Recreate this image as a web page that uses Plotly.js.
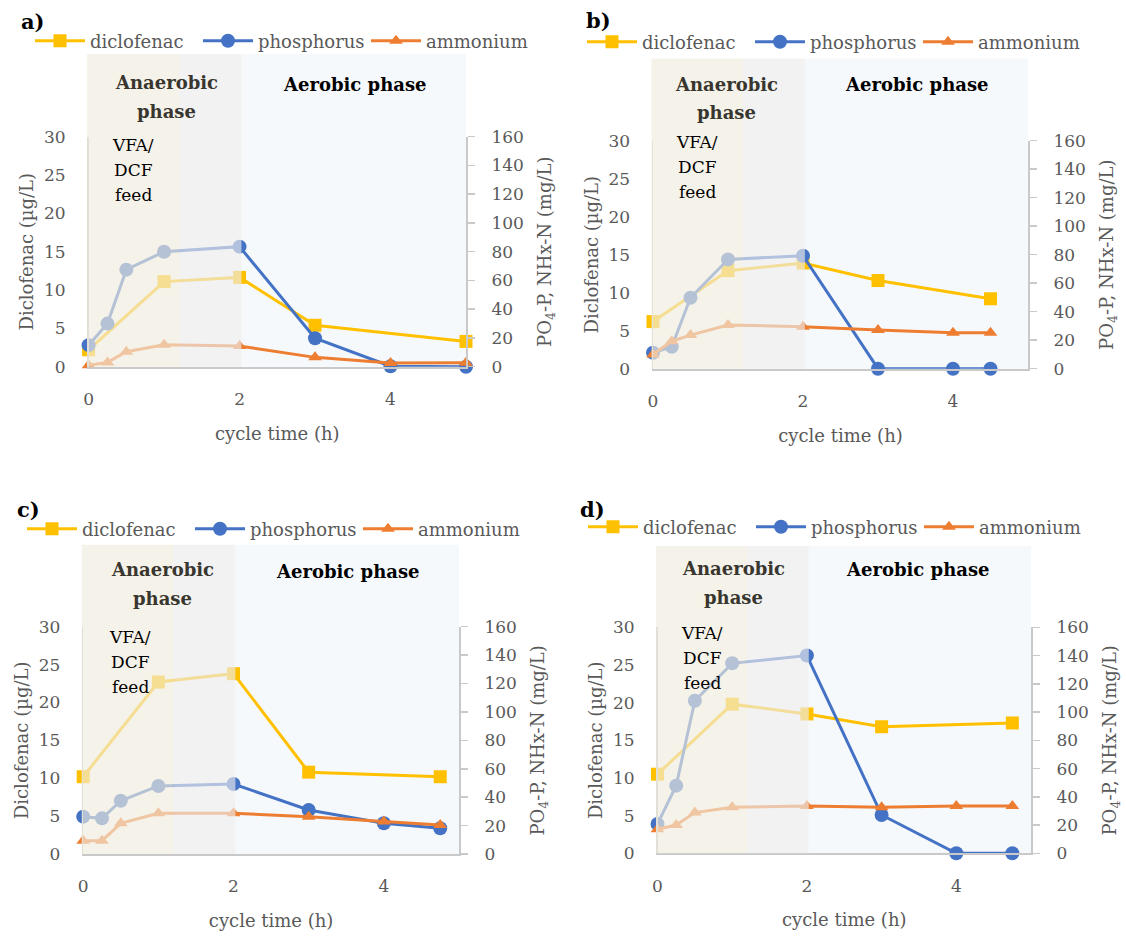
<!DOCTYPE html>
<html>
<head>
<meta charset="utf-8">
<script src="https://cdn.plot.ly/plotly-3.0.1.min.js"></script>
<style>html,body{margin:0;padding:0;background:#fff;}#chart{width:1126px;height:940px;}</style>
</head>
<body>
<div id="chart"></div>
<script>
// ---------- data ----------
const seriesNames = ['diclofenac', 'phosphorus', 'ammonium'];
const panelLabels = ['a)', 'b)', 'c)', 'd)'];
const xTickVals = [0, 2, 4];
const leftTickVals = [0, 5, 10, 15, 20, 25, 30];
const rightTickVals = [0, 20, 40, 60, 80, 100, 120, 140, 160];

// panel a
const timeA = [0, 0.25, 0.5, 1, 2, 3, 4, 5];
const dcfTimeA = [0, 1, 2, 3, 5];
const dcfA = [2.2, 11.1, 11.65, 5.4, 3.3];
const phosA = [15, 30, 67.5, 80, 83.5, 19.8, 0.3, 0];
const nh4A = [1, 3, 10.4, 15.3, 14.4, 6.5, 2.5, 2.8];

// panel b
const timeB = [0, 0.25, 0.5, 1, 2, 3, 4, 4.5];
const dcfTimeB = [0, 1, 2, 3, 4.5];
const dcfB = [6.2, 12.9, 13.9, 11.6, 9.2];
const phosB = [11.2, 15.4, 49.8, 76.7, 79.3, 0, 0, 0];
const nh4B = [10, 19.3, 23.6, 30.6, 29.5, 27.1, 25.3, 25.3];

// panel c
const timeC = [0, 0.25, 0.5, 1, 2, 3, 4, 4.75];
const dcfTimeC = [0, 1, 2, 3, 4.75];
const dcfC = [10.2, 22.7, 23.8, 10.8, 10.2];
const phosC = [26.3, 25.1, 37.5, 47.9, 49.3, 31, 21.6, 18.1];
const nh4C = [9.4, 9.4, 21.6, 28.6, 28.6, 26.3, 22.8, 20.4];

// panel d
const timeD = [0, 0.25, 0.5, 1, 2, 3, 4, 4.75];
const dcfTimeD = [0, 1, 2, 3, 4.75];
const dcfD = [10.5, 19.8, 18.5, 16.8, 17.3];
const phosD = [20.8, 47.9, 108, 134.5, 140, 27.1, 0, 0];
const nh4D = [17, 20, 28.8, 32.6, 33.5, 32.6, 33.5, 33.5];

// ---------- styling / layout ----------
const W = 1126, H = 940;
const FONT = 'DejaVu Serif';
const GREY_TXT = '#595959';
const AXIS_COL = '#c9c9c9';
const COLORS = ['#FFC000', '#4472C4', '#ED7D31'];
const SYMBOLS = ['square', 'circle', 'triangle-up'];
const SIZES = [13, 14, 12];

const px = v => v / W;
const py = v => 1 - v / H;

// plot-area boxes in pixels [left, right, top, bottom]
const boxes = [
  [88.6, 466, 136.7, 366.7],
  [653, 1028, 140.7, 368.7],
  [83.2, 459, 626.7, 854],
  [657.5, 1031, 627.3, 853.3]
];
// legend left x / centre y, panel-label centre, text positions (pixels)
const legendPos = [[30, 41], [582, 42], [22, 529], [583, 527]];
const labelPos = [[33, 22], [598, 20], [28, 510], [592, 509]];
const anaPos = [[166, 83, 112], [726, 84, 113], [162, 569, 598], [733, 568, 597]];
const aerPos = [[355, 84], [916, 84], [347, 571], [917, 569]];
const feedPos = [[133, 145], [697, 142], [130, 637], [702, 633]];

const panels = [
  {t: timeA, dt: dcfTimeA, d: dcfA, p: phosA, n: nh4A},
  {t: timeB, dt: dcfTimeB, d: dcfB, p: phosB, n: nh4B},
  {t: timeC, dt: dcfTimeC, d: dcfC, p: phosC, n: nh4C},
  {t: timeD, dt: dcfTimeD, d: dcfD, p: phosD, n: nh4D}
];

const data = [];
const layout = {
  width: W, height: H,
  margin: {l: 0, r: 0, t: 0, b: 0},
  paper_bgcolor: '#ffffff',
  plot_bgcolor: 'rgba(0,0,0,0)',
  font: {family: FONT, color: GREY_TXT},
  showlegend: true,
  shapes: [],
  annotations: []
};

panels.forEach((pn, i) => {
  const k = i + 1;
  const xName = k === 1 ? 'x' : 'x' + k;
  const yL = 'y' + (2 * i + 1 === 1 ? '' : 2 * i + 1);
  const yR = 'y' + (2 * i + 2);
  const legendName = k === 1 ? 'legend' : 'legend' + k;
  const [l, r, t, b] = boxes[i];

  const traceXs = [pn.dt, pn.t, pn.t];
  const traceYs = [pn.d, pn.p, pn.n];
  for (let s = 0; s < 3; s++) {
    data.push({
      type: 'scatter', mode: 'lines+markers',
      name: seriesNames[s],
      x: traceXs[s], y: traceYs[s],
      xaxis: xName, yaxis: s === 0 ? yL : yR,
      legend: legendName,
      cliponaxis: false,
      line: {color: COLORS[s], width: 3},
      marker: {symbol: SYMBOLS[s], size: SIZES[s], color: COLORS[s]},
      hoverinfo: 'x+y+name'
    });
  }

  const xKey = k === 1 ? 'xaxis' : 'xaxis' + k;
  const yLKey = 'yaxis' + (2 * i + 1 === 1 ? '' : 2 * i + 1);
  const yRKey = 'yaxis' + (2 * i + 2);
  const tickFont = {family: FONT, size: 17, color: GREY_TXT};
  const titleFont = {family: FONT, size: 18, color: GREY_TXT};

  layout[xKey] = {
    domain: [px(l), px(r)], anchor: yL,
    range: [0, 5], tickvals: xTickVals, ticks: '',
    showline: true, linecolor: AXIS_COL, linewidth: 2,
    showgrid: false, zeroline: false,
    tickfont: tickFont, ticklabelstandoff: 16,
    title: {text: 'cycle time (h)', font: titleFont, standoff: 19}
  };
  layout[yLKey] = {
    domain: [py(b), py(t)], anchor: xName,
    range: [0, 30], tickvals: leftTickVals, ticks: '',
    showline: true, linecolor: AXIS_COL, linewidth: 1.5,
    showgrid: false, zeroline: false,
    tickfont: tickFont, ticklabelstandoff: 18,
    title: {text: 'Diclofenac (µg/L)', font: titleFont, standoff: 5}
  };
  layout[yRKey] = {
    overlaying: yL, side: 'right', anchor: xName,
    range: [0, 160], tickvals: rightTickVals,
    ticks: 'outside', ticklen: 7, tickwidth: 1.5, tickcolor: AXIS_COL,
    showline: true, linecolor: AXIS_COL, linewidth: 2,
    showgrid: false, zeroline: false,
    tickfont: tickFont, ticklabelstandoff: 13,
    title: {text: 'PO<sub>4</sub>-P, NHx-N (mg/L)', font: titleFont, standoff: 16}
  };

  layout[legendName] = {
    x: px(legendPos[i][0]), y: py(legendPos[i][1]),
    xanchor: 'left', yanchor: 'middle',
    orientation: 'h', itemwidth: 50,
    entrywidthmode: 'pixels', entrywidth: 103,
    bgcolor: 'rgba(0,0,0,0)',
    font: {family: FONT, size: 18, color: GREY_TXT}
  };

  // phase shading
  const xr = xName + ' domain', yr = yL + ' domain';
  const topFrac = 1.36;
  layout.shapes.push(
    {type: 'rect', xref: xr, yref: yr, x0: 0.405, x1: 1.0, y0: 0, y1: topFrac,
     fillcolor: '#F6F9FC', line: {width: 0}, layer: 'below'},
    {type: 'rect', xref: xr, yref: yr, x0: -0.004, x1: 0.24, y0: 0, y1: topFrac,
     fillcolor: 'rgb(240,235,222)', opacity: 0.66, line: {width: 0}, layer: 'above'},
    {type: 'rect', xref: xr, yref: yr, x0: 0.24, x1: 0.405, y0: 0, y1: topFrac,
     fillcolor: 'rgb(235,235,235)', opacity: 0.66, line: {width: 0}, layer: 'above'}
  );

  // texts
  const ann = (text, x, y, font, extra) => Object.assign({
    text, x: px(x), y: py(y), xref: 'paper', yref: 'paper',
    xanchor: 'center', yanchor: 'middle', showarrow: false, font
  }, extra || {});
  const boldF = {family: FONT, size: 18, color: '#000000', weight: 'bold'};
  const anaF = {family: FONT, size: 18, color: '#38362e', weight: 'bold'};
  const feedF = {family: FONT, size: 17, color: '#000000'};
  layout.annotations.push(
    ann(panelLabels[i], labelPos[i][0], labelPos[i][1], {family: FONT, size: 21, color: '#000000', weight: 'bold'}),
    ann('Anaerobic', anaPos[i][0], anaPos[i][1], anaF),
    ann('phase', anaPos[i][0], anaPos[i][2], anaF),
    ann('Aerobic phase', aerPos[i][0], aerPos[i][1], boldF),
    ann('VFA/', feedPos[i][0], feedPos[i][1], feedF),
    ann('DCF', feedPos[i][0], feedPos[i][1] + 25, feedF),
    ann('feed', feedPos[i][0], feedPos[i][1] + 50, feedF)
  );
});

Plotly.newPlot('chart', data, layout, {displayModeBar: false, staticPlot: true});
</script>
</body>
</html>
